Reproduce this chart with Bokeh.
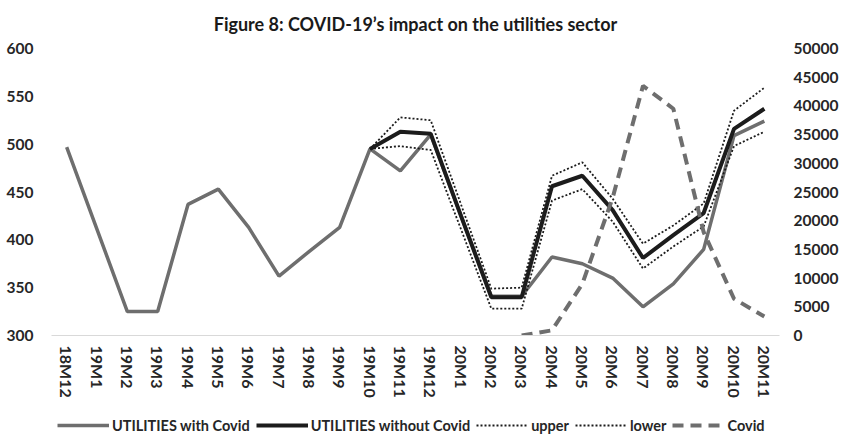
from bokeh.plotting import figure
from bokeh.layouts import column
from bokeh.models import (FactorRange, Range1d, LinearAxis, FixedTicker, Legend, LegendItem)
from bokeh.embed import file_html
from bokeh.resources import INLINE

months = ["18M12", "19M1", "19M2", "19M3", "19M4", "19M5", "19M6", "19M7", "19M8",
          "19M9", "19M10", "19M11", "19M12", "20M1", "20M2", "20M3", "20M4", "20M5",
          "20M6", "20M7", "20M8", "20M9", "20M10", "20M11"]
with_covid = [497, 411, 325, 325, 437, 453, 413, 362, 388, 413, 495, 472, 510, 425,
              341, 341, 382, 375, 360, 330, 354, 390, 509, 524]
fc_months = months[10:]
without_covid = [495, 513, 511, 425, 340, 340, 456, 467, 431, 381, 405, 428, 516, 537]
upper = [495, 528, 525, 437, 349, 350, 467, 481, 443, 396, 415, 438, 535, 559]
lower = [495, 498, 494, 411, 328, 328, 441, 453, 419, 370, 393, 414, 498, 513]
covid_months = months[15:]
covid = [0, 900, 9000, 24000, 43500, 39500, 18000, 6400, 3300]
series_names = ["UTILITIES with Covid", "UTILITIES without Covid", "upper", "lower", "Covid"]

FONT = "Lato"
GRAY = "#6e6e6e"
BLACK = "#1c1c1c"
styles = [
    dict(line_color=GRAY, line_width=3.5),
    dict(line_color=BLACK, line_width=4),
    dict(line_color=BLACK, line_width=1.8, line_dash="2 2"),
    dict(line_color=BLACK, line_width=1.8, line_dash="2 2"),
    dict(line_color=GRAY, line_width=4, line_dash="11 7"),
]

p = figure(x_range=FactorRange(*months), y_range=Range1d(300, 600),
           frame_width=728, frame_height=287, output_backend="svg", toolbar_location=None,
           min_border_left=51, min_border_right=60, min_border_top=48, min_border_bottom=66)
p.title.text = "Figure 8: COVID-19\u2019s impact on the utilities sector"
p.title.align = "center"
p.title.vertical_align = "top"
p.title.text_font = FONT
p.title.text_font_size = "18px"
p.title.text_font_style = "bold"
p.title.text_color = "#1a1a1a"
p.title.standoff = 24
p.outline_line_color = None
p.xgrid.visible = False
p.ygrid.visible = False
p.extra_y_ranges = {"covid": Range1d(0, 50000)}

p.line(months, with_covid, **styles[0])
p.line(fc_months, without_covid, **styles[1])
p.line(fc_months, upper, **styles[2])
p.line(fc_months, lower, **styles[3])
p.line(covid_months, covid, y_range_name="covid", **styles[4])

def style(ax, size):
    ax.axis_line_color = None
    ax.major_tick_line_color = None
    ax.minor_tick_line_color = None
    ax.major_tick_in = 0
    ax.major_tick_out = 0
    ax.major_label_text_font = FONT
    ax.major_label_text_font_style = "bold"
    ax.major_label_text_font_size = size
    ax.major_label_text_color = "#262626"

yl = p.yaxis[0]
yl.ticker = FixedTicker(ticks=[300, 350, 400, 450, 500, 550, 600])
style(yl, "15.5px")
yl.major_label_standoff = 18

yr = LinearAxis(y_range_name="covid", ticker=FixedTicker(ticks=list(range(0, 50001, 5000))))
style(yr, "15.5px")
yr.major_label_standoff = 14
p.add_layout(yr, "right")

xa = p.xaxis[0]
style(xa, "16px")
xa.axis_line_color = "#d9d9d9"
xa.axis_line_width = 1
xa.major_label_orientation = "vertical"
xa.major_label_standoff = 10

# legend strip below the chart (series drawn out of view, only their legend shows)
lf = figure(width=839, height=34, x_range=Range1d(0, 1), y_range=Range1d(-2, -1),
            x_axis_type=None, y_axis_type=None, output_backend="svg", toolbar_location=None,
            min_border=0)
lf.outline_line_color = None
lf.xgrid.visible = False
lf.ygrid.visible = False
all_series = [with_covid, without_covid, upper, lower, covid]
items = []
for name, st, vals in zip(series_names, styles, all_series):
    r = lf.line(x=list(range(len(vals))), y=vals, **st)
    items.append(LegendItem(label=name, renderers=[r]))
legend = Legend(items=items, orientation="horizontal", location=(6, 0))
legend.label_text_font = FONT
legend.label_text_font_style = "bold"
legend.label_text_font_size = "14.5px"
legend.label_text_color = "#262626"
legend.glyph_width = 52
legend.label_standoff = 3
legend.spacing = 6
legend.border_line_color = None
legend.background_fill_alpha = 0
legend.padding = 0
legend.margin = 0
lf.add_layout(legend, "center")

open("out.html", "w").write(file_html(column(p, lf, spacing=0), INLINE))
